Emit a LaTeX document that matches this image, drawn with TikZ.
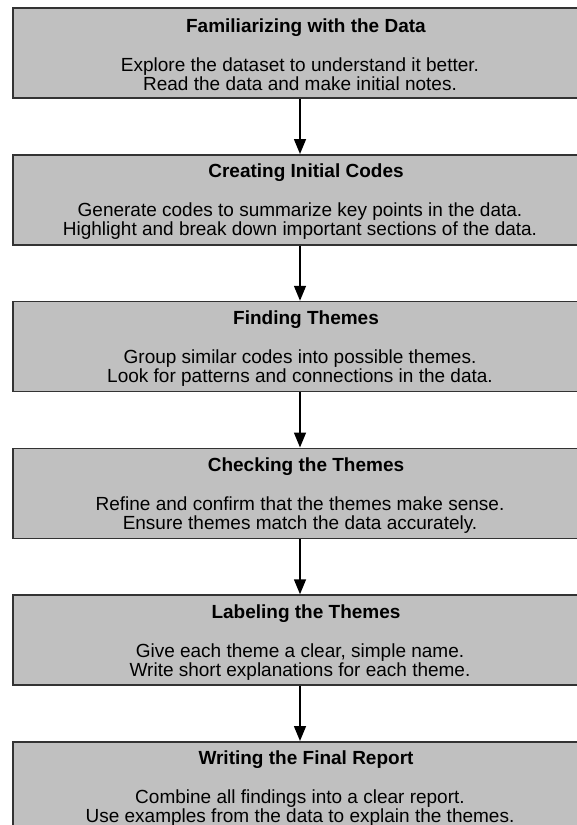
\documentclass[tikz,border=0pt]{standalone}
\usepackage{fontspec}
\setmainfont{Liberation Sans}
\usetikzlibrary{positioning,arrows.meta}
\definecolor{boxgray}{HTML}{C0C0C0}
\definecolor{edgegray}{HTML}{333333}
\newcommand\phasetitle[1]{\rule{0pt}{18pt}\hspace*{12pt}\textbf{#1}\\[20pt]}
\begin{document}
\begin{tikzpicture}[x=1pt,y=-1pt,
  phase/.style={draw=edgegray, line width=1.5pt, fill=boxgray, minimum width=574pt,
    minimum height=90pt, inner sep=0pt, align=center,
    font=\fontsize{19}{19}\selectfont},
  flow/.style={-{Triangle[length=15pt,width=12pt]}, line width=1.5pt},
  node distance=55.25pt]
\useasboundingbox (0,0) rectangle (577,825);
\clip (0,0) rectangle (577,825);

\node[phase] (familiar) at (300,53) {\phasetitle{Familiarizing with the Data}
  Explore the dataset to understand it better.\\Read the data and make initial notes.};
\node[phase, below=of familiar] (codes) {\phasetitle{Creating Initial Codes}
  Generate codes to summarize key points in the data.\\Highlight and break down important sections of the data.};
\node[phase, below=of codes] (themes) {\phasetitle{Finding Themes}
  Group similar codes into possible themes.\\Look for patterns and connections in the data.};
\node[phase, below=of themes] (checking) {\phasetitle{Checking the Themes}
  Refine and confirm that the themes make sense.\\Ensure themes match the data accurately.};
\node[phase, below=of checking] (labeling) {\phasetitle{Labeling the Themes}
  Give each theme a clear, simple name.\\Write short explanations for each theme.};
\node[phase, below=of labeling] (report) {\phasetitle{Writing the Final Report}
  Combine all findings into a clear report.\\Use examples from the data to explain the themes.};

\draw[flow] (familiar) -- (codes);
\draw[flow] (codes) -- (themes);
\draw[flow] (themes) -- (checking);
\draw[flow] (checking) -- (labeling);
\draw[flow] (labeling) -- (report);
\end{tikzpicture}
\end{document}
